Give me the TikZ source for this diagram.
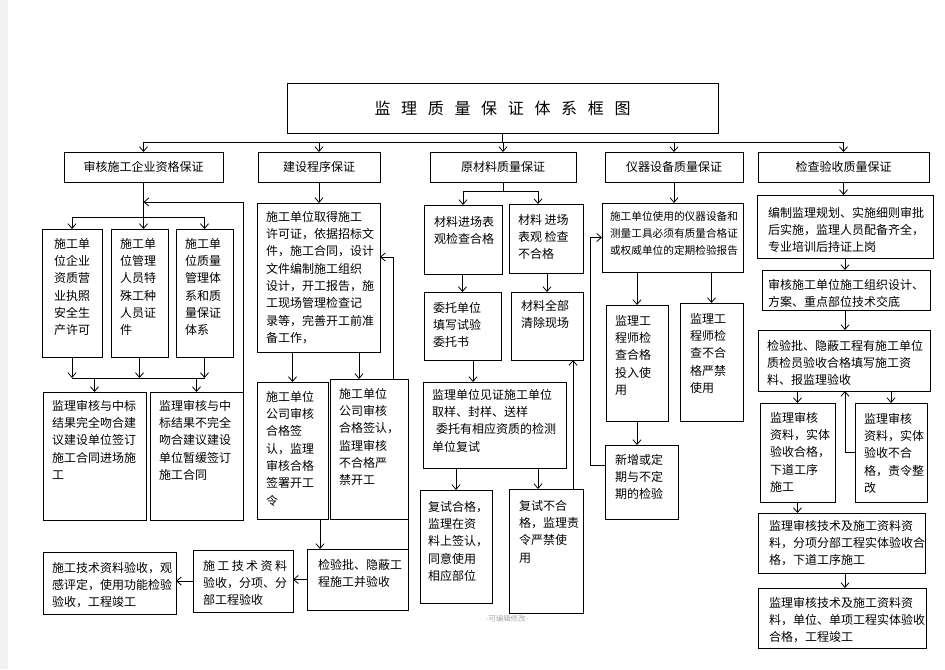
\documentclass[tikz,border=0pt]{standalone}
\usepackage{fontspec}
\usepackage{tikz}
\usetikzlibrary{arrows.meta}
\newfontfamily\cjk{Noto Sans CJK SC}
\newlength\pxu \setlength\pxu{0.75pt}
\newlength\cellpad \setlength\cellpad{9\pxu}
\newcommand{\cell}[4][8]{\parbox[c][#3\pxu][t]{#2\pxu}{\leftskip=\cellpad\rightskip=0pt plus 1fil\vspace*{#1\pxu}#4\par}}

\begin{document}
\begin{tikzpicture}[x=0.75pt, y=-0.75pt, line width=0.6pt,
  >={Straight Barb[length=3.5pt,width=6pt]},
  blk/.style={draw, anchor=north west, inner sep=0pt, outer sep=0pt, font=\cjk\fontsize{9}{13}\selectfont},
  head/.style={blk, minimum height=30\pxu}]
\useasboundingbox (0,0) rectangle (945,669);
\fill[gray!10] (0,0) rectangle (8,669);

\node[blk, minimum width=431\pxu, minimum height=50\pxu, font=\cjk\fontsize{12}{14}\selectfont] (title) at (287,83)
  {监\kern8pt 理\kern8pt 质\kern8pt 量\kern8pt 保\kern8pt 证\kern8pt 体\kern8pt 系\kern8pt 框\kern8pt 图};

\node[head, minimum width=159\pxu] (a) at (64,152) {审核施工企业资格保证};
\node[head, minimum width=122\pxu] (b) at (258,152) {建设程序保证};
\node[head, minimum width=146\pxu] (c) at (430,152) {原材料质量保证};
\node[head, minimum width=138\pxu] (d) at (605,152) {仪器设备质量保证};
\node[head, minimum width=171\pxu] (e) at (758,152) {检查验收质量保证};

% enterprise qualification
\node[blk] (a1) at (42,229) {\setlength\cellpad{12\pxu}\cell[9]{60}{128}{施工单\\位企业\\资质营\\业执照\\安全生\\产许可}};
\node[blk] (a2) at (111,229) {\cell[9]{57}{128}{施工单\\位管理\\人员特\\殊工种\\人员证\\件}};
\node[blk] (a3) at (176,229) {\cell[9]{57}{128}{施工单\\位质量\\管理体\\系和质\\量保证\\体系}};
\node[blk] (a4) at (43,392) {\cell{103}{128}{监理审核与中标\\结果完全吻合建\\议建设单位签订\\施工合同进场施\\工}};
\node[blk] (a5) at (150,392) {\cell{93}{128}{监理审核与中\\标结果不完全\\吻合建议建设\\单位暂缓签订\\施工合同}};

% construction procedure
\node[blk] (b1) at (257,203) {\cell{123}{149}{施工单位取得施工\\许可证，依据招标文\\件，施工合同，设计\\文件编制施工组织\\设计，开工报告，施\\工现场管理检查记\\录等，完善开工前准\\备工作，}};
\node[blk] (b2) at (257,382) {\cell[9]{71}{137}{施工单位\\公司审核\\合格签\\认，监理\\审核合格\\签署开工\\令}};
\node[blk] (b3) at (330,379) {\cell[9]{78}{140}{施工单位\\公司审核\\合格签认，\\监理审核\\不合格严\\禁开工}};
\node[blk] (b4) at (307,549) {\setlength\cellpad{11\pxu}\cell[10]{101}{61}{检验批、隐蔽工\\程施工并验收}};
\node[blk] (b5) at (193,550) {\setlength\cellpad{10\pxu}\cell[10]{100}{62}{施\kern1.8pt 工\kern1.8pt 技\kern1.8pt 术\kern1.8pt 资\kern1.8pt 料\\验收，分项、分\\部工程验收}};
\node[blk] (b6) at (43,552) {\cell[10]{133}{62}{施工技术资料验收，观\\感评定，使用功能检验\\验收，工程竣工}};

% materials
\node[blk] (c1) at (424,205) {\setlength\cellpad{10\pxu}\cell[11]{78}{69}{材料进场表\\观检查合格}};
\node[blk] (c2) at (509,204) {\cell[10]{74}{69}{材料 进场\\表观 检查\\不合格}};
\node[blk] (c3) at (424,292) {\cell[10]{77}{68}{委托单位\\填写试验\\委托书}};
\node[blk] (c4) at (511,292) {\setlength\cellpad{10\pxu}\cell{72}{68}{材料全部\\清除现场}};
\node[blk] (c5) at (423,382) {\cell[7]{143}{86}{监理单位见证施工单位\\取样、封样、送样\\\hspace*{3pt}委托有相应资质的检测\\单位复试}};
\node[blk] (c7) at (420,490) {\setlength\cellpad{8\pxu}\cell[11]{72}{113}{复试合格，\\监理在资\\料上签认，\\同意使用\\相应部位}};
\node[blk] (c6) at (509,489) {\setlength\cellpad{10\pxu}\cell[11]{74}{124}{复试不合\\格，监理责\\令严禁使\\用}};

% instruments
\node[blk, font=\cjk\fontsize{8}{13}\selectfont] (d1) at (602,203) {\setlength\cellpad{8\pxu}\cell{141}{69}{施工单位使用的仪器设备和\\测量工具必须有质量合格证\\或权威单位的定期检验报告}};
\node[blk] (d2) at (606,305) {\cell[10]{62}{116}{监理工\\程师检\\查合格\\投入使\\用}};
\node[blk] (d3) at (680,303) {\setlength\cellpad{10\pxu}\cell[10]{63}{118}{监理工\\程师检\\查不合\\格严禁\\使用}};
\node[blk] (d5) at (605,445) {\setlength\cellpad{10\pxu}\cell[9]{73}{74}{新增或定\\期与不定\\期的检验}};

% inspection and acceptance
\node[blk] (e1) at (757,195) {\setlength\cellpad{11\pxu}\cell[12]{176}{63}{编制监理规划、实施细则审批\\后实施，监理人员配备齐全，\\专业培训后持证上岗}};
\node[blk] (e2) at (762,270) {\setlength\cellpad{6\pxu}\cell[9]{168}{40}{审核施工单位施工组织设计、\\方案、重点部位技术交底}};
\node[blk] (e3) at (758,330) {\cell[10]{172}{61}{检验批、隐蔽工程有施工单位\\质检员验收合格填写施工资\\料、报监理验收}};
\node[blk] (e4) at (760,403) {\setlength\cellpad{10\pxu}\cell[9]{75}{99}{监理审核\\资料，实体\\验收合格，\\下道工序\\施工}};
\node[blk] (e5) at (855,403) {\cell[10]{72}{99}{监理审核\\资料，实体\\验收不合\\格，责令整\\改}};
\node[blk] (e6) at (758,513) {\setlength\cellpad{11\pxu}\cell[7]{167}{60}{监理审核技术及施工资料资\\料，分项分部工程实体验收合\\格，下道工序施工}};
\node[blk] (e7) at (758,588) {\setlength\cellpad{11\pxu}\cell[9]{168}{60}{监理审核技术及施工资料资\\料，单位、单项工程实体验收\\合格，工程竣工}};

\node[font=\cjk\fontsize{5.5}{6}\selectfont, text=gray!70] (wm) at (507,619) {-可编辑修改-};

% top bus
\coordinate (bus) at (0,142);
\draw (title.south) -- (title.south |- bus);
\draw (a.north |- bus) -- (e.north |- bus);
\foreach \n in {a,b,c,d,e} \draw[->] (\n.north |- bus) -- (\n.north);

% column a
\coordinate (abus) at (0,217);
\coordinate (afb) at (0,202);
\coordinate (abus2) at (0,378);
\draw[->] (a.south) -- (a.south |- a2.north);
\draw (a1.north |- abus) -- (a3.north |- abus);
\draw[->] (a1.north |- abus) -- (a1.north);
\draw[->] (a3.north |- abus) -- (a3.north);
\draw[->] (a5.north east) -- (a5.north east |- afb) -- (a.south |- afb);
\foreach \n in {a1,a2,a3} \draw[->] (\n.south) -- (\n.south |- abus2);
\draw (a1.south |- abus2) -- (a3.south |- abus2);
\draw[->] (a4.north |- abus2) -- (a4.north);
\draw[->] (a5.north |- abus2) -- (a5.north);

% column b
\coordinate (bx) at (359,0);
\coordinate (by) at (320,0);
\coordinate (bfb) at (393,257);
\draw[->] (b.south) -- (b.south |- b1.north);
\draw[->] (b1.south -| b2.north) -- (b2.north);
\draw[->] (b1.south -| bx) -- (b3.north -| bx);
\draw[->] (b3.north -| bfb) -- (bfb) -- (b1.east |- bfb);
\draw[->] (b2.south -| by) -- (b4.north -| by);
\draw (b3.south east) -- (b4.north east);
\draw[->] (b4.west) -- (b5.east |- b4.west);
\draw[->] (b5.west) -- (b6.east |- b5.west);

% column c
\coordinate (cbus) at (0,191);
\coordinate (cx) at (538,0);
\coordinate (cy) at (473,0);
\coordinate (cup) at (573,0);
\draw (c.south) -- (c.south |- cbus);
\draw (c1.north |- cbus) -- (cx |- cbus);
\draw[->] (c1.north |- cbus) -- (c1.north);
\draw[->] (cx |- cbus) -- (cx |- c2.north);
\draw[->] (c1.south -| c3.north) -- (c3.north);
\draw[->] (c2.south -| c4.north) -- (c4.north);
\draw[->] (c3.south -| cy) -- (c5.north -| cy);
\draw[->] (c5.south -| c7.north) -- (c7.north);
\draw[->] (c5.south -| cx) -- (c6.north -| cx);
\draw[->] (c6.north -| cup) -- (c4.south -| cup);

% column d
\coordinate (dfb) at (590,465);
\draw[->] (d.south) -- (d.south |- d1.north);
\draw[->] (d1.south -| d2.north) -- (d2.north);
\draw[->] (d1.south -| d3.north) -- (d3.north);
\draw[->] (d2.south) -- (d2.south |- d5.north);
\draw[->] (d5.west |- dfb) -- (dfb) -- (dfb |- d1.west) -- (d1.west);

% column e
\coordinate (efb) at (845,0);
\draw[->] (e.south) -- (e.south |- e1.north);
\draw[->] (e1.south -| efb) -- (e2.north -| efb);
\draw[->] (e2.south -| efb) -- (e3.north -| efb);
\draw[->] (e3.south -| e4.north) -- (e4.north);
\draw[->] (e3.south -| e5.north) -- (e5.north);
\draw[->] (e5.west) -- (e5.west -| efb) -- (e3.south -| efb);
\draw[->] (e4.south) -- (e4.south |- e6.north);
\draw[->] (e6.south -| efb) -- (e7.north -| efb);
\end{tikzpicture}
\end{document}
